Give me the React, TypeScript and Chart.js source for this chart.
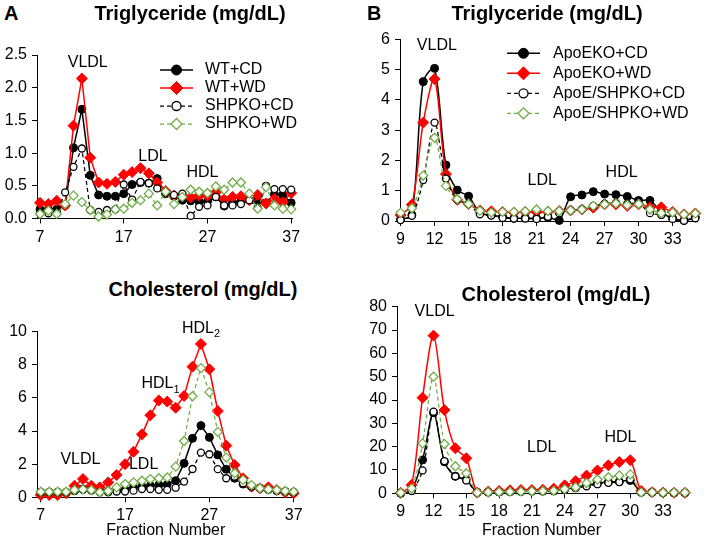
import React, { useEffect, useRef } from 'react';
import { Chart, registerables } from 'chart.js';

Chart.register(...registerables);

const FONT = "'Liberation Sans', Arial, Helvetica, sans-serif";
const RED = '#FF0000';
const GREEN = '#70AD47';
const BLACK = '#000000';

// ---------- categories / ticks ----------
const fractionsA = [7, 8, 9, 10, 11, 12, 13, 14, 15, 16, 17, 18, 19, 20, 21, 22, 23, 24, 25, 26, 27, 28, 29, 30, 31, 32, 33, 34, 35, 36, 37];
const fractionsB = [9, 10, 11, 12, 13, 14, 15, 16, 17, 18, 19, 20, 21, 22, 23, 24, 25, 26, 27, 28, 29, 30, 31, 32, 33, 34, 35];
const xTicksA = [7, 17, 27, 37];
const xTicksB = [9, 12, 15, 18, 21, 24, 27, 30, 33];

const seriesNamesA = ['WT+CD', 'WT+WD', 'SHPKO+CD', 'SHPKO+WD'];
const seriesNamesB = ['ApoEKO+CD', 'ApoEKO+WD', 'ApoE/SHPKO+CD', 'ApoE/SHPKO+WD'];

// ---------- Panel A: Triglyceride ----------
const tgWTCD = [0.14, 0.14, 0.14, 0.2, 1.08, 1.67, 0.66, 0.36, 0.34, 0.34, 0.38, 0.52, 0.55, 0.54, 0.61, 0.38, 0.34, 0.28, 0.27, 0.26, 0.26, 0.33, 0.19, 0.24, 0.27, 0.28, 0.27, 0.24, 0.37, 0.36, 0.24];
const tgWTWD = [0.24, 0.22, 0.27, 0.2, 1.42, 2.14, 0.93, 0.55, 0.53, 0.56, 0.67, 0.71, 0.77, 0.69, 0.55, 0.42, 0.35, 0.35, 0.32, 0.35, 0.35, 0.4, 0.29, 0.33, 0.34, 0.28, 0.36, 0.23, 0.3, 0.25, 0.39];
const tgSHPKOCD = [0.08, 0.08, 0.08, 0.4, 0.79, 1.07, 0.13, 0.1, 0.13, 0.14, 0.52, 0.29, 0.56, 0.54, 0.46, 0.4, 0.36, 0.38, 0.04, 0.18, 0.2, 0.33, 0.2, 0.2, 0.22, 0.28, 0.16, 0.5, 0.45, 0.45, 0.44];
const tgSHPKOWD = [0.07, 0.12, 0.07, 0.22, 0.35, 0.25, 0.13, 0.03, 0.06, 0.14, 0.15, 0.24, 0.28, 0.38, 0.2, 0.41, 0.22, 0.33, 0.44, 0.41, 0.39, 0.49, 0.44, 0.55, 0.55, 0.38, 0.15, 0.48, 0.2, 0.15, 0.14];

// ---------- Panel A: Cholesterol ----------
const chWTCD = [0.3, 0.3, 0.3, 0.3, 0.4, 0.5, 0.45, 0.4, 0.35, 0.4, 0.45, 0.6, 0.65, 0.7, 0.75, 0.78, 1.0, 2.05, 3.56, 4.33, 3.62, 2.56, 1.69, 1.15, 0.8, 0.65, 0.55, 0.5, 0.4, 0.35, 0.3];
const chWTWD = [0.14, 0.14, 0.14, 0.24, 0.7, 1.1, 0.7, 0.6, 0.9, 1.35, 2.0, 2.75, 3.8, 4.95, 5.85, 5.78, 5.41, 6.12, 7.89, 9.26, 7.73, 5.21, 3.12, 1.95, 1.15, 0.64, 0.54, 0.6, 0.44, 0.3, 0.24];
const chSHPKOCD = [0.3, 0.3, 0.3, 0.3, 0.4, 0.45, 0.4, 0.3, 0.3, 0.35, 0.35, 0.4, 0.5, 0.5, 0.45, 0.45, 0.58, 0.95, 1.71, 2.7, 2.6, 1.7, 1.15, 1.25, 0.85, 0.65, 0.55, 0.45, 0.4, 0.35, 0.3];
const chSHPKOWD = [0.34, 0.34, 0.34, 0.34, 0.44, 0.48, 0.44, 0.3, 0.38, 0.6, 0.8, 0.9, 1.0, 1.1, 1.15, 1.2, 1.85, 3.4, 6.1, 7.8, 6.35, 3.95, 2.4, 1.45, 1.05, 0.74, 0.55, 0.48, 0.44, 0.38, 0.34];

// ---------- Panel B: Triglyceride ----------
const tgApoCD = [0.05, 0.2, 4.6, 5.04, 1.85, 1.02, 0.82, 0.27, 0.2, 0.14, 0.09, 0.1, 0.08, 0.12, 0.02, 0.8, 0.86, 0.97, 0.89, 0.87, 0.81, 0.68, 0.68, 0.3, 0.08, 0.02, 0.12];
const tgApoWD = [0.2, 0.54, 3.25, 4.69, 1.55, 0.7, 0.56, 0.35, 0.32, 0.3, 0.28, 0.3, 0.3, 0.3, 0.33, 0.35, 0.38, 0.44, 0.55, 0.55, 0.5, 0.55, 0.45, 0.45, 0.3, 0.22, 0.25];
const tgApoSHPCD = [0.03, 0.17, 1.35, 3.25, 1.4, 0.7, 0.57, 0.22, 0.18, 0.1, 0.08, 0.08, 0.07, 0.14, 0.26, 0.35, 0.39, 0.5, 0.57, 0.6, 0.57, 0.58, 0.26, 0.2, 0.07, 0.01, 0.09];
const tgApoSHPWD = [0.27, 0.42, 1.5, 2.75, 1.16, 0.72, 0.56, 0.34, 0.28, 0.3, 0.3, 0.32, 0.38, 0.33, 0.33, 0.35, 0.38, 0.5, 0.55, 0.58, 0.53, 0.56, 0.38, 0.26, 0.28, 0.22, 0.25];

// ---------- Panel B: Cholesterol ----------
const chApoCD = [0, 1.5, 14.3, 34.5, 13.5, 7.3, 5.8, 0.4, 0.5, 0.6, 0.7, 0.8, 0.9, 0.9, 1.0, 1.8, 2.5, 3.4, 4.3, 4.8, 5.0, 5.5, 0.5, 0.4, 0.3, 0.2, 0.2];
const chApoWD = [0.2, 3.6, 41, 67.6, 35.7, 19.3, 15, 0.3, 0.7, 1.0, 1.3, 1.4, 1.4, 1.5, 2.0, 3.4, 5.2, 7.6, 9.8, 12.0, 13.4, 14.2, 1.0, 0.5, 0.3, 0.2, 0.2];
const chApoSHPCD = [0, 1.0, 9.8, 35, 13.8, 7.3, 5.5, 0.2, 0.4, 0.5, 0.6, 0.7, 0.8, 0.9, 1.0, 1.5, 2.2, 3.0, 3.9, 4.5, 4.8, 6.0, 0.3, 0.3, 0.2, 0.2, 0.2];
const chApoSHPWD = [0.2, 2.1, 21.4, 50, 21.1, 11.6, 8.6, 0.3, 0.5, 0.6, 0.7, 0.8, 0.9, 1.0, 1.1, 1.8, 2.6, 4.4, 5.9, 6.9, 7.6, 8.1, 0.4, 0.4, 0.3, 0.3, 0.3];

// ---------- annotation labels (data coordinates) ----------
type Note = { text: string; sub?: string; x: number; y: number };
const notesATG: Note[] = [
  { text: 'VLDL', x: 12.7, y: 2.38 },
  { text: 'LDL', x: 20.5, y: 0.94 },
  { text: 'HDL', x: 26.4, y: 0.7 },
];
const notesBTG: Note[] = [
  { text: 'VLDL', x: 12.2, y: 5.8 },
  { text: 'LDL', x: 21.5, y: 1.35 },
  { text: 'HDL', x: 28.5, y: 1.6 },
];
const notesACH: Note[] = [
  { text: 'HDL', sub: '2', x: 26.0, y: 10.2 },
  { text: 'HDL', sub: '1', x: 21.2, y: 6.84 },
  { text: 'VLDL', x: 11.7, y: 2.25 },
  { text: 'LDL', x: 19.2, y: 2.0 },
];
const notesBCH: Note[] = [
  { text: 'VLDL', x: 12.1, y: 77.8 },
  { text: 'LDL', x: 21.9, y: 19.8 },
  { text: 'HDL', x: 29.1, y: 23.7 },
];

// ---------- styling ----------
type SeriesStyle = { color: string; fill: string; shape: 'circle' | 'diamond'; dash: number[]; r: number; lr: number; lw: number; pbw: number };
const STYLES: SeriesStyle[] = [
  { color: BLACK, fill: BLACK, shape: 'circle', dash: [], r: 4, lr: 5, lw: 1.5, pbw: 1 },
  { color: RED, fill: RED, shape: 'diamond', dash: [], r: 5.5, lr: 6.5, lw: 1.5, pbw: 1 },
  { color: BLACK, fill: '#FFFFFF', shape: 'circle', dash: [4, 3], r: 3.5, lr: 4.5, lw: 1.25, pbw: 1.3 },
  { color: GREEN, fill: '#FFFFFF', shape: 'diamond', dash: [4, 3], r: 4.5, lr: 5.5, lw: 1.25, pbw: 1.3 },
];

type LegendCfg = { x0: number; x1: number; textX: number; y0: number; dy: number };
type PanelCfg = {
  left: number; top: number; w: number; h: number;
  yAxisW: number; padTop: number; padRight: number; xAxisH: number;
  xMin: number; xMax: number; xTicks: number[];
  yMax: number; yStep: number; yDec: number;
  tension: number;
  fractions: number[];
  series: number[][];
  names: string[];
  notes: Note[];
  legend?: LegendCfg;
  xTitle?: boolean;
};

const panels: PanelCfg[] = [
  {
    left: 0, top: 30, w: 355, h: 220, yAxisW: 37, padTop: 25, padRight: 63, xAxisH: 31.5,
    xMin: 6.64, xMax: 37.1, xTicks: xTicksA, yMax: 2.5, yStep: 0.5, yDec: 1, tension: 0,
    fractions: fractionsA, series: [tgWTCD, tgWTWD, tgSHPKOCD, tgSHPKOWD], names: seriesNamesA,
    notes: notesATG, legend: { x0: 160, x1: 193, textX: 205, y0: 40, dy: 18 },
  },
  {
    left: 355, top: 20, w: 359, h: 230, yAxisW: 45, padTop: 19.3, padRight: 17, xAxisH: 29,
    xMin: 8.95, xMax: 35.15, xTicks: xTicksB, yMax: 6, yStep: 1, yDec: 0, tension: 0.3,
    fractions: fractionsB, series: [tgApoCD, tgApoWD, tgApoSHPCD, tgApoSHPWD], names: seriesNamesB,
    notes: notesBTG, legend: { x0: 152, x1: 185, textX: 198, y0: 33.3, dy: 20 },
  },
  {
    left: 0, top: 300, w: 355, h: 239, yAxisW: 37, padTop: 31.7, padRight: 60.5, xAxisH: 41.7,
    xMin: 6.55, xMax: 37.1, xTicks: xTicksA, yMax: 10, yStep: 2, yDec: 0, tension: 0,
    fractions: fractionsA, series: [chWTCD, chWTWD, chSHPKOCD, chSHPKOWD], names: seriesNamesA,
    notes: notesACH, xTitle: true,
  },
  {
    left: 355, top: 290, w: 359, h: 249, yAxisW: 42, padTop: 16.7, padRight: 28, xAxisH: 45.7,
    xMin: 8.66, xMax: 35.1, xTicks: xTicksB, yMax: 80, yStep: 10, yDec: 0, tension: 0.3,
    fractions: fractionsB, series: [chApoCD, chApoWD, chApoSHPCD, chApoSHPWD], names: seriesNamesB,
    notes: notesBCH, xTitle: true,
  },
];

function drawMarker(ctx: CanvasRenderingContext2D, s: SeriesStyle, x: number, y: number, r: number) {
  ctx.beginPath();
  if (s.shape === 'circle') {
    ctx.arc(x, y, r, 0, Math.PI * 2);
  } else {
    ctx.moveTo(x - r, y);
    ctx.lineTo(x, y - r);
    ctx.lineTo(x + r, y);
    ctx.lineTo(x, y + r);
    ctx.closePath();
  }
  ctx.setLineDash([]);
  ctx.fillStyle = s.fill;
  ctx.fill();
  ctx.lineWidth = s.pbw;
  ctx.strokeStyle = s.color;
  ctx.stroke();
}

function overlayPlugin(p: PanelCfg) {
  return {
    id: 'overlay',
    afterDatasetsDraw(chart: any) {
      const ctx: CanvasRenderingContext2D = chart.ctx;
      const xs = chart.scales.x;
      const ys = chart.scales.y;
      ctx.save();
      ctx.fillStyle = '#000';
      ctx.textBaseline = 'middle';
      ctx.textAlign = 'left';
      for (const a of p.notes) {
        const px = xs.getPixelForValue(a.x);
        const py = ys.getPixelForValue(a.y);
        ctx.font = `16px ${FONT}`;
        const mw = ctx.measureText(a.text).width;
        let sw = 0;
        if (a.sub) {
          ctx.font = `11px ${FONT}`;
          sw = ctx.measureText(a.sub).width;
        }
        const x0 = px - (mw + sw) / 2;
        ctx.font = `16px ${FONT}`;
        ctx.fillText(a.text, x0, py);
        if (a.sub) {
          ctx.font = `11px ${FONT}`;
          ctx.fillText(a.sub, x0 + mw, py + 6);
        }
      }
      if (p.legend) {
        const L = p.legend;
        p.names.forEach((name, i) => {
          const s = STYLES[i];
          const y = L.y0 + i * L.dy;
          ctx.beginPath();
          ctx.setLineDash(s.dash);
          ctx.strokeStyle = s.color;
          ctx.lineWidth = s.lw;
          ctx.moveTo(L.x0, y);
          ctx.lineTo(L.x1, y);
          ctx.stroke();
          drawMarker(ctx, s, (L.x0 + L.x1) / 2, y, s.lr);
          ctx.font = `16px ${FONT}`;
          ctx.fillStyle = '#000';
          ctx.textAlign = 'left';
          ctx.fillText(name, L.textX, y);
        });
      }
      ctx.restore();
    },
  };
}

function buildConfig(p: PanelCfg): any {
  const datasets = p.series.map((vals, i) => {
    const s = STYLES[i];
    return {
      label: p.names[i],
      data: p.fractions.map((f, j) => ({ x: f, y: vals[j] })),
      borderColor: s.color,
      backgroundColor: s.fill,
      borderWidth: s.lw,
      borderDash: s.dash,
      pointStyle: s.shape === 'circle' ? 'circle' : 'rectRot',
      pointRadius: s.r,
      pointBackgroundColor: s.fill,
      pointBorderColor: s.color,
      pointBorderWidth: s.pbw,
      tension: p.tension,
      fill: false,
      clip: false,
      order: 10 - i,
    };
  });
  const axisCommon = {
    grid: { drawOnChartArea: false, drawTicks: true, tickLength: 5, color: '#000', lineWidth: 1 },
    border: { display: true, color: '#000', width: 1 },
  };
  return {
    type: 'line',
    data: { datasets },
    options: {
      responsive: false,
      animation: false,
      events: [],
      layout: { padding: { left: 0, top: p.padTop, right: p.padRight, bottom: 0 } },
      plugins: { legend: { display: false }, tooltip: { enabled: false }, title: { display: false } },
      scales: {
        x: {
          type: 'linear',
          min: p.xMin,
          max: p.xMax,
          afterBuildTicks: (s: any) => { s.ticks = p.xTicks.map((v) => ({ value: v })); },
          afterFit: (s: any) => { s.height = p.xAxisH; },
          ticks: { font: { size: 16, family: FONT }, color: '#000', padding: 4, maxRotation: 0, autoSkip: false },
          title: p.xTitle
            ? { display: true, text: 'Fraction Number', color: '#000', font: { size: 16, family: FONT, lineHeight: 1 }, padding: 0 }
            : { display: false },
          ...axisCommon,
        },
        y: {
          type: 'linear',
          min: 0,
          max: p.yMax,
          afterFit: (s: any) => { s.width = p.yAxisW; },
          ticks: {
            stepSize: p.yStep,
            font: { size: 16, family: FONT },
            color: '#000',
            padding: 5,
            callback: (v: any) => Number(v).toFixed(p.yDec),
          },
          ...axisCommon,
        },
      },
    },
    plugins: [overlayPlugin(p)],
  };
}

function Panel({ p }: { p: PanelCfg }) {
  const ref = useRef<HTMLCanvasElement>(null);
  useEffect(() => {
    const chart = new Chart(ref.current as HTMLCanvasElement, buildConfig(p));
    return () => chart.destroy();
  }, []);
  return (
    <canvas
      ref={ref}
      width={p.w}
      height={p.h}
      style={{ position: 'absolute', left: p.left, top: p.top, width: p.w, height: p.h }}
    />
  );
}

const headStyle: React.CSSProperties = {
  position: 'absolute',
  fontFamily: FONT,
  fontWeight: 'bold',
  fontSize: 20,
  lineHeight: '20px',
  whiteSpace: 'nowrap',
  color: '#000',
};

export default function App() {
  return (
    <div style={{ position: 'absolute', left: 0, top: 0, width: 714, height: 539, background: '#fff', overflow: 'hidden' }}>
      {panels.map((p, i) => (
        <Panel key={i} p={p} />
      ))}
      <div style={{ ...headStyle, left: 4, top: 3 }}>A</div>
      <div style={{ ...headStyle, left: 90, top: 3, width: 200, textAlign: 'center' }}>Triglyceride (mg/dL)</div>
      <div style={{ ...headStyle, left: 367, top: 3 }}>B</div>
      <div style={{ ...headStyle, left: 447, top: 3, width: 200, textAlign: 'center' }}>Triglyceride (mg/dL)</div>
      <div style={{ ...headStyle, left: 103, top: 279, width: 200, textAlign: 'center' }}>Cholesterol (mg/dL)</div>
      <div style={{ ...headStyle, left: 456, top: 284, width: 200, textAlign: 'center' }}>Cholesterol (mg/dL)</div>
    </div>
  );
}
